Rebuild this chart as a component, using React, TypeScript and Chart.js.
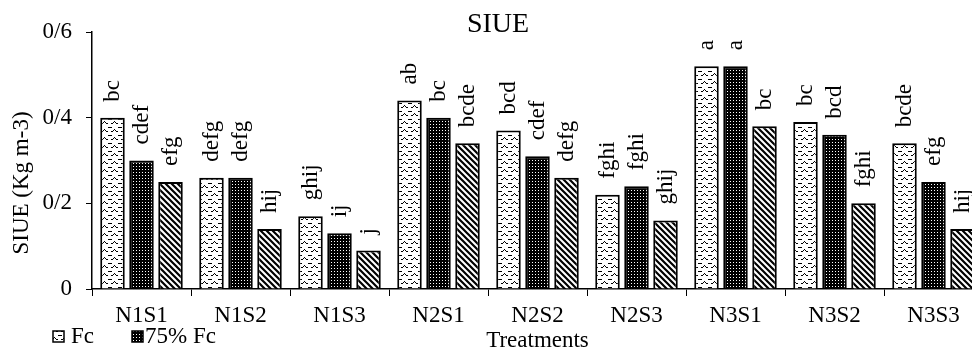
import React, { useEffect, useRef } from 'react';
import { Chart, registerables } from 'chart.js';
Chart.register(...registerables);

const categories = ['N1S1', 'N1S2', 'N1S3', 'N2S1', 'N2S2', 'N2S3', 'N3S1', 'N3S2', 'N3S3'];
const fcValues = [0.40, 0.26, 0.17, 0.44, 0.37, 0.22, 0.52, 0.39, 0.34];
const fc75Values = [0.30, 0.26, 0.13, 0.40, 0.31, 0.24, 0.52, 0.36, 0.25];
const fc50Values = [0.25, 0.14, 0.09, 0.34, 0.26, 0.16, 0.38, 0.20, 0.14];
const fcLetters = ['bc', 'defg', 'ghij', 'ab', 'bcd', 'fghi', 'a', 'bc', 'bcde'];
const fc75Letters = ['cdef', 'defg', 'ij', 'bc', 'cdef', 'fghi', 'a', 'bcd', 'efg'];
const fc50Letters = ['efg', 'hij', 'j', 'bcde', 'defg', 'ghij', 'bc', 'fghi', 'hij'];
const seriesNames = ['Fc', '75% Fc', '50% Fc'];
const yTickValues = [0, 0.2, 0.4, 0.6];
const yTickLabels = ['0', '0/2', '0/4', '0/6'];
const chartTitle = 'SIUE';
const yTitle = 'SIUE (Kg m-3)';
const xTitle = 'Treatments';

const FONT = "'Liberation Serif', 'Times New Roman', serif";

function makePattern(kind: number): CanvasPattern | string {
  const c = document.createElement('canvas');
  const ctx = c.getContext('2d');
  if (!ctx) return '#888';
  if (kind === 0) {
    c.width = 10; c.height = 8;
    ctx.fillStyle = '#fff'; ctx.fillRect(0, 0, 10, 8);
    ctx.fillStyle = '#000';
    ctx.fillRect(1, 3, 2, 1); ctx.fillRect(3, 2, 1, 1); ctx.fillRect(4, 1, 1, 1);
    ctx.fillRect(5, 2, 1, 1); ctx.fillRect(6, 3, 2, 1);
    ctx.fillRect(0, 7, 2, 1); ctx.fillRect(8, 7, 2, 1);
  } else if (kind === 1) {
    c.width = 3; c.height = 3;
    ctx.fillStyle = '#000'; ctx.fillRect(0, 0, 3, 3);
    ctx.fillStyle = '#fff'; ctx.fillRect(1, 1, 1, 1);
  } else {
    c.width = 6; c.height = 6;
    ctx.fillStyle = '#fff'; ctx.fillRect(0, 0, 6, 6);
    ctx.strokeStyle = '#000'; ctx.lineWidth = 2.2;
    ctx.beginPath();
    ctx.moveTo(-1, -1); ctx.lineTo(7, 7);
    ctx.moveTo(-4, 2); ctx.lineTo(2, 8);
    ctx.moveTo(2, -4); ctx.lineTo(8, 2);
    ctx.stroke();
  }
  const p = ctx.createPattern(c, 'repeat');
  return p || '#888';
}

export default function App() {
  const ref = useRef<HTMLCanvasElement | null>(null);
  useEffect(() => {
    const canvas = ref.current;
    if (!canvas) return;
    const patterns = [makePattern(0), makePattern(1), makePattern(2)];
    const letters = [fcLetters, fc75Letters, fc50Letters];

    const decor = {
      id: 'decor',
      afterDatasetsDraw(chart: any) {
        const ctx = chart.ctx;
        ctx.save();
        ctx.fillStyle = '#000';
        ctx.font = `23px ${FONT}`;
        chart.data.datasets.forEach((_ds: any, di: number) => {
          const meta = chart.getDatasetMeta(di);
          meta.data.forEach((el: any, i: number) => {
            ctx.save();
            ctx.translate(el.x, el.y - 16);
            ctx.rotate(-Math.PI / 2);
            ctx.textAlign = 'left';
            ctx.textBaseline = 'middle';
            ctx.fillText(letters[di][i], 0, 0);
            ctx.restore();
          });
        });
        ctx.font = `28px ${FONT}`;
        ctx.textAlign = 'center';
        ctx.textBaseline = 'alphabetic';
        ctx.fillText(chartTitle, 498, 32);
        ctx.font = `23px ${FONT}`;
        ctx.save();
        ctx.translate(28, 183);
        ctx.rotate(-Math.PI / 2);
        ctx.textAlign = 'center';
        ctx.textBaseline = 'alphabetic';
        ctx.fillText(yTitle, 0, 0);
        ctx.restore();
        const ca = chart.chartArea;
        ctx.textAlign = 'center';
        ctx.fillText(xTitle, (ca.left + ca.right) / 2, 347);
        const lx = [53, 132];
        const tx = [71, 145];
        for (let k = 0; k < 2; k++) {
          ctx.fillStyle = patterns[k];
          ctx.fillRect(lx[k], 331, 11, 11);
          ctx.strokeStyle = '#000';
          ctx.lineWidth = 1.5;
          ctx.strokeRect(lx[k], 331, 11, 11);
          ctx.fillStyle = '#000';
          ctx.textAlign = 'left';
          ctx.fillText(seriesNames[k], tx[k], 343);
        }
        ctx.restore();
      },
    };

    const chart = new Chart(canvas, {
      type: 'bar',
      data: {
        labels: categories,
        datasets: [fcValues, fc75Values, fc50Values].map((vals, i) => ({
          label: seriesNames[i],
          data: vals,
          backgroundColor: patterns[i] as any,
          borderColor: '#000',
          borderWidth: 2,
          categoryPercentage: 0.879,
          barPercentage: 0.845,
        })),
      },
      options: {
        responsive: false,
        animation: false,
        devicePixelRatio: 1,
        layout: { padding: { top: 32, right: 7, left: 0, bottom: 0 } },
        plugins: { legend: { display: false }, title: { display: false }, tooltip: { enabled: false } },
        scales: {
          x: {
            offset: true,
            grid: { display: true, offset: true, drawOnChartArea: false, tickLength: 7, color: '#000', lineWidth: 1 },
            border: { display: true, color: '#000', width: 1.5 },
            ticks: { color: '#000', font: { family: FONT, size: 23 }, padding: 6, maxRotation: 0, autoSkip: false },
            afterFit: (s: any) => { s.height = 62; },
          },
          y: {
            min: 0,
            max: 0.6,
            afterBuildTicks: (s: any) => { s.ticks = yTickValues.map((v) => ({ value: v })); },
            grid: { display: true, drawOnChartArea: false, tickLength: 6, color: '#000', lineWidth: 1 },
            border: { display: true, color: '#000', width: 1.5 },
            ticks: {
              color: '#000',
              font: { family: FONT, size: 23 },
              padding: 14,
              callback: (v: any) => {
                const idx = yTickValues.findIndex((t) => Math.abs(t - Number(v)) < 1e-9);
                return idx >= 0 ? yTickLabels[idx] : '';
              },
            },
            afterFit: (s: any) => { s.width = 92; },
          },
        },
      },
      plugins: [decor],
    });
    return () => chart.destroy();
  }, []);

  return (
    <div style={{ position: 'fixed', left: 0, top: 0, width: 972, height: 351, overflow: 'hidden', background: '#fff' }}>
      <canvas ref={ref} width={990} height={351} style={{ width: 990, height: 351, display: 'block' }} />
    </div>
  );
}
